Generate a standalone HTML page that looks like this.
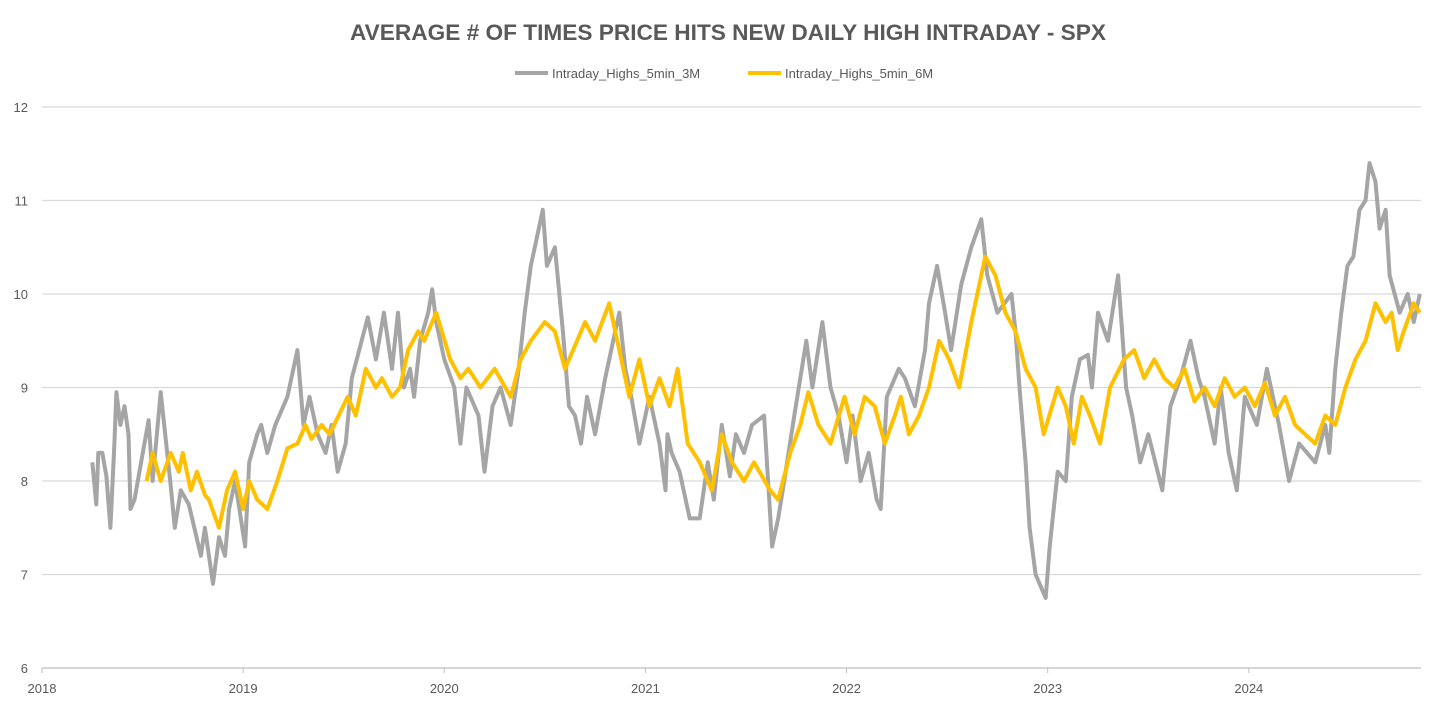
<!DOCTYPE html>
<html><head><meta charset="utf-8"><style>
body{margin:0;background:#fff;width:1456px;height:709px;overflow:hidden;font-family:"Liberation Sans",sans-serif}
</style></head><body>
<svg id="chart" width="1456" height="709" xmlns="http://www.w3.org/2000/svg">
<text x="728" y="40" text-anchor="middle" font-size="22" font-weight="bold" fill="#595959" textLength="756" lengthAdjust="spacingAndGlyphs">AVERAGE # OF TIMES PRICE HITS NEW DAILY HIGH INTRADAY - SPX</text>
<g>
<line x1="515" y1="73" x2="548" y2="73" stroke="#a5a5a5" stroke-width="4"/>
<text x="552" y="78" font-size="13" fill="#595959">Intraday_Highs_5min_3M</text>
<line x1="748" y1="73" x2="781" y2="73" stroke="#ffc000" stroke-width="4"/>
<text x="785" y="78" font-size="13" fill="#595959">Intraday_Highs_5min_6M</text>
</g>
<g id="grid"></g>
<g id="axes"></g>
<g id="series"></g>
</svg>
<script>
const yTicks=[6,7,8,9,10,11,12];
const xTickLabels=["2018","2019","2020","2021","2022","2023","2024"];
const grayDates=[.25,.27,.28,.30,.32,.34,.36,.37,.39,.41,.43,.44,.46,.53,.55,.59,.64,.66,.69,.73,.79,.81,.85,.88,.91,.93,.96,1.01,1.03,1.07,1.09,1.12,1.16,1.22,1.27,1.30,1.33,1.37,1.41,1.44,1.47,1.51,1.54,1.62,1.66,1.70,1.74,1.77,1.80,1.83,1.85,1.88,1.92,1.94,1.96,2.00,2.05,2.08,2.11,2.17,2.20,2.24,2.28,2.33,2.37,2.40,2.43,2.45,2.49,2.51,2.55,2.59,2.62,2.65,2.68,2.71,2.75,2.80,2.85,2.87,2.90,2.93,2.97,3.02,3.07,3.10,3.11,3.13,3.17,3.22,3.27,3.31,3.34,3.38,3.42,3.45,3.49,3.53,3.59,3.63,3.66,3.69,3.74,3.80,3.83,3.88,3.92,3.96,4.00,4.03,4.07,4.11,4.15,4.17,4.20,4.26,4.29,4.34,4.39,4.41,4.45,4.49,4.52,4.57,4.62,4.67,4.70,4.75,4.82,4.84,4.86,4.89,4.91,4.94,4.99,5.01,5.03,5.05,5.09,5.12,5.16,5.20,5.22,5.25,5.30,5.35,5.39,5.42,5.46,5.50,5.57,5.61,5.66,5.71,5.75,5.78,5.83,5.86,5.90,5.94,5.98,6.04,6.09,6.15,6.20,6.25,6.33,6.38,6.40,6.43,6.46,6.49,6.52,6.55,6.58,6.60,6.63,6.65,6.68,6.70,6.75,6.79,6.82,6.85];
const grayValues=[8.2,7.75,8.3,8.3,8.05,7.5,8.4,8.95,8.6,8.8,8.5,7.7,7.8,8.65,8.0,8.95,7.95,7.5,7.9,7.75,7.2,7.5,6.9,7.4,7.2,7.7,8.0,7.3,8.2,8.5,8.6,8.3,8.6,8.9,9.4,8.6,8.9,8.5,8.3,8.6,8.1,8.4,9.1,9.75,9.3,9.8,9.2,9.8,9.0,9.2,8.9,9.5,9.8,10.05,9.7,9.3,9.0,8.4,9.0,8.7,8.1,8.8,9.0,8.6,9.2,9.8,10.3,10.5,10.9,10.3,10.5,9.6,8.8,8.7,8.4,8.9,8.5,9.1,9.6,9.8,9.2,8.9,8.4,8.9,8.4,7.9,8.5,8.3,8.1,7.6,7.6,8.2,7.8,8.6,8.05,8.5,8.3,8.6,8.7,7.3,7.6,8.0,8.7,9.5,9.0,9.7,9.0,8.7,8.2,8.7,8.0,8.3,7.8,7.7,8.9,9.2,9.1,8.8,9.4,9.9,10.3,9.8,9.4,10.1,10.5,10.8,10.2,9.8,10.0,9.6,9.0,8.2,7.5,7.0,6.75,7.3,7.7,8.1,8.0,8.9,9.3,9.35,9.0,9.8,9.5,10.2,9.0,8.7,8.2,8.5,7.9,8.8,9.1,9.5,9.1,8.9,8.4,9.0,8.3,7.9,8.9,8.6,9.2,8.6,8.0,8.4,8.2,8.6,8.3,9.2,9.8,10.3,10.4,10.9,11.0,11.4,11.2,10.7,10.9,10.2,9.8,10.0,9.7,10.0];
const goldDates=[.52,.55,.59,.64,.68,.70,.74,.77,.81,.83,.88,.92,.96,1.00,1.03,1.07,1.12,1.17,1.22,1.27,1.31,1.34,1.39,1.43,1.52,1.56,1.61,1.66,1.69,1.74,1.78,1.82,1.87,1.90,1.96,2.03,2.08,2.12,2.18,2.25,2.33,2.38,2.43,2.50,2.55,2.60,2.70,2.75,2.82,2.87,2.92,2.97,3.02,3.07,3.12,3.16,3.21,3.27,3.33,3.38,3.43,3.49,3.54,3.62,3.66,3.72,3.77,3.81,3.86,3.92,3.99,4.04,4.09,4.14,4.19,4.24,4.27,4.31,4.36,4.41,4.46,4.51,4.56,4.62,4.66,4.69,4.74,4.79,4.84,4.89,4.94,4.98,5.05,5.09,5.13,5.17,5.21,5.26,5.31,5.38,5.43,5.48,5.53,5.58,5.63,5.68,5.73,5.78,5.83,5.88,5.93,5.98,6.03,6.08,6.13,6.18,6.23,6.28,6.33,6.38,6.43,6.48,6.53,6.58,6.63,6.68,6.71,6.74,6.77,6.82,6.85];
const goldValues=[8.0,8.3,8.0,8.3,8.1,8.3,7.9,8.1,7.85,7.8,7.5,7.9,8.1,7.7,8.0,7.8,7.7,8.0,8.35,8.4,8.6,8.45,8.6,8.5,8.9,8.7,9.2,9.0,9.1,8.9,9.0,9.4,9.6,9.5,9.8,9.3,9.1,9.2,9.0,9.2,8.9,9.3,9.5,9.7,9.6,9.2,9.7,9.5,9.9,9.4,8.9,9.3,8.8,9.1,8.8,9.2,8.4,8.2,7.9,8.5,8.2,8.0,8.2,7.9,7.8,8.3,8.6,8.95,8.6,8.4,8.9,8.5,8.9,8.8,8.4,8.7,8.9,8.5,8.7,9.0,9.5,9.3,9.0,9.7,10.1,10.4,10.2,9.8,9.6,9.2,9.0,8.5,9.0,8.8,8.4,8.9,8.7,8.4,9.0,9.3,9.4,9.1,9.3,9.1,9.0,9.2,8.85,9.0,8.8,9.1,8.9,9.0,8.8,9.05,8.7,8.9,8.6,8.5,8.4,8.7,8.6,9.0,9.3,9.5,9.9,9.7,9.8,9.4,9.6,9.9,9.8];

const L=42,R=1421,T=107,B=668,yMin=6,yMax=12,xSpan=6.856;
const NS="http://www.w3.org/2000/svg";
function sx(t){return L+t/xSpan*(R-L);}
function sy(v){return B-(v-yMin)/(yMax-yMin)*(B-T);}
function mk(tag,attrs,parent){const e=document.createElementNS(NS,tag);for(const k in attrs)e.setAttribute(k,attrs[k]);parent.appendChild(e);return e;}
const grid=document.getElementById('grid'),axes=document.getElementById('axes'),series=document.getElementById('series');
yTicks.forEach(v=>{
  if(v>yMin){const g=mk('line',{x1:L,x2:R,y1:sy(v),y2:sy(v),stroke:'#d9d9d9','stroke-width':1.2},grid);
  
  }
  const t=mk('text',{x:28,y:sy(v)+5,'text-anchor':'end','font-size':13,fill:'#595959'},axes);
  t.textContent=v;
  
  
});
const ax=mk('line',{x1:L,x2:R,y1:B,y2:B,stroke:'#bfbfbf','stroke-width':1.2},axes);


xTickLabels.forEach((lab,i)=>{
  const x=sx(i);
  const tk=mk('line',{x1:x,x2:x,y1:B,y2:B+5,stroke:'#bfbfbf'},axes);
  
  
  const t=mk('text',{x:x,y:693,'text-anchor':'middle','font-size':13,fill:'#595959'},axes);
  t.textContent=lab;
  
  
});
function path(d,v){return d.map((t,i)=>(i?'L':'M')+sx(t).toFixed(1)+','+sy(v[i]).toFixed(1)).join('');}
const p1=mk('path',{d:path(grayDates,grayValues),fill:'none',stroke:'#a5a5a5','stroke-width':4,'stroke-linejoin':'round'},series);


const p2=mk('path',{d:path(goldDates,goldValues),fill:'none',stroke:'#ffc000','stroke-width':4,'stroke-linejoin':'round'},series);


</script>
</body></html>
